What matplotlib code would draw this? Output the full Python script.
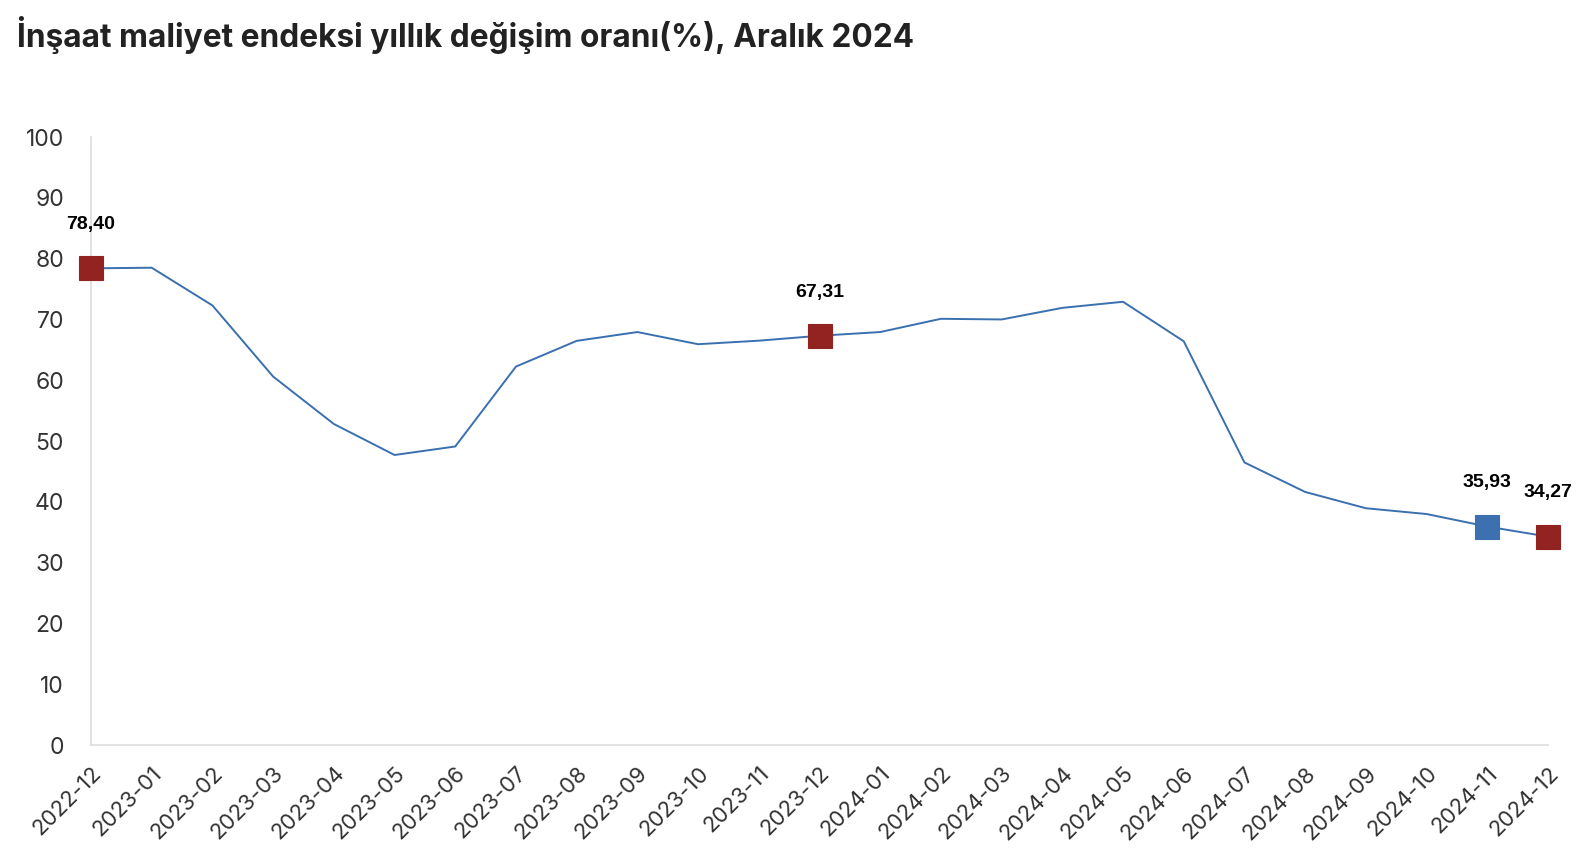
import matplotlib
matplotlib.use("Agg")
import matplotlib.pyplot as plt
from matplotlib.transforms import ScaledTranslation

months = ["2022-12", "2023-01", "2023-02", "2023-03", "2023-04", "2023-05", "2023-06",
          "2023-07", "2023-08", "2023-09", "2023-10", "2023-11", "2023-12",
          "2024-01", "2024-02", "2024-03", "2024-04", "2024-05", "2024-06",
          "2024-07", "2024-08", "2024-09", "2024-10", "2024-11", "2024-12"]
values = [78.40, 78.50, 72.30, 60.60, 52.80, 47.70, 49.10,
          62.24, 66.47, 67.92, 65.92, 66.50, 67.31,
          67.92, 70.10, 69.99, 71.90, 72.90, 66.40,
          46.47, 41.62, 38.94, 37.99, 35.93, 34.27]
highlight_red = ["2022-12", "2023-12", "2024-12"]
highlight_blue = ["2024-11"]
y_ticks = [0, 10, 20, 30, 40, 50, 60, 70, 80, 90, 100]
title = "İnşaat maliyet endeksi yıllık değişim oranı(%), Aralık 2024"

line_color = "#3A6FB0"
red = "#922320"
blue = "#3C70B0"

W, H = 1592, 866
fig = plt.figure(figsize=(W/100, H/100), dpi=100)
L, R, B, T = 91, 1548, 745, 137
ax = fig.add_axes([L/W, 1-B/H, (R-L)/W, (B-T)/H])

x = list(range(len(months)))
ax.plot(x, values, color=line_color, lw=1.4, zorder=2)

for m, v in zip(months, values):
    if m in highlight_red or m in highlight_blue:
        i = months.index(m)
        c = red if m in highlight_red else blue
        ax.plot([i], [v], marker="s", ms=16.8, color=c, mec=c, mew=0.8, ls="none",
                clip_on=False, zorder=3)
        ax.annotate(f"{v:.2f}".replace(".", ","), (i, v), xytext=(0, 31.5),
                    textcoords="offset points", ha="center", va="center",
                    fontsize=14, fontweight="bold", color="black",
                    family="Liberation Sans")

ax.set_xlim(0, len(months)-1)
ax.set_ylim(0, 100)
ax.set_yticks(y_ticks)
ax.set_yticklabels([str(t) for t in y_ticks], fontsize=16.5, color="#333333",
                   family="Inter")
ax.set_xticks(x)
ax.set_xticklabels(months, rotation=45, ha="right", rotation_mode="anchor",
                   fontsize=16, color="#333333", family="Inter")
off = ScaledTranslation(6/100, 0, fig.dpi_scale_trans)
for lab in ax.get_xticklabels():
    lab.set_transform(lab.get_transform() + off)
ax.tick_params(axis="both", length=0)
ax.tick_params(axis="y", pad=19.5)
ax.tick_params(axis="x", pad=13)
for s in ["top", "right"]:
    ax.spines[s].set_visible(False)
for s in ["left", "bottom"]:
    ax.spines[s].set_color("#dddddd")
    ax.spines[s].set_linewidth(1.2)

fig.text(17/W, 1-47/H, title, fontsize=22.8, fontweight="bold",
         color="#222222", family="Inter", va="baseline", ha="left")

fig.savefig("out.png", dpi=100, facecolor="white")
